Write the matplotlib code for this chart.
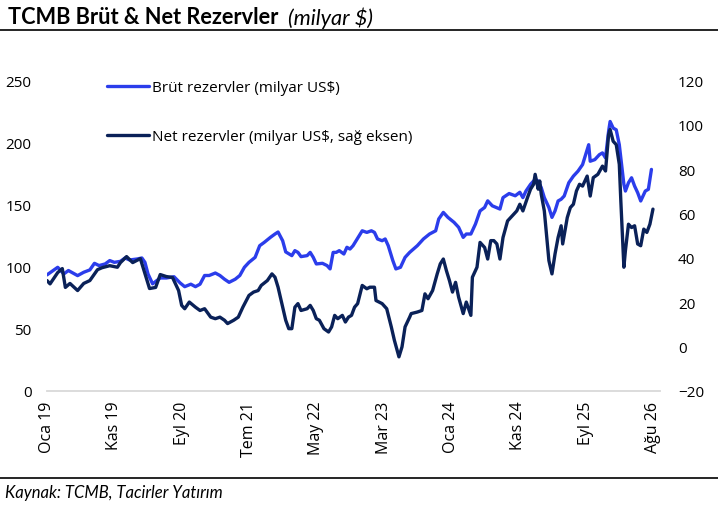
import matplotlib
matplotlib.use("Agg")
import matplotlib.pyplot as plt
from matplotlib.lines import Line2D

# ---------------- data (weeks since Jan 2019) ----------------
brut_weeks = [0, 7, 11, 14, 20, 24, 28, 31, 34, 38, 41, 44, 48, 51, 54, 59, 62, 64, 66, 69,
              74, 78, 83, 87, 90, 94, 97, 100, 103, 106, 110, 113, 116, 119, 123, 126, 129, 132, 136, 139,
              142, 146, 149, 151, 154, 156, 160, 162, 164, 166, 170, 172, 174, 176, 180, 183, 185, 187, 189, 191,
              194, 196, 198, 200, 202, 206, 209, 212, 214, 216, 219, 221, 223, 226, 228, 231, 234, 237, 242, 246,
              250, 254, 256, 259, 262, 266, 269, 272, 274, 277, 280, 283, 286, 288, 291, 296, 298, 302, 306, 309,
              311, 313, 316, 319, 321, 323, 325, 328, 330, 332, 334, 336, 338, 341, 344, 347, 350, 354, 355, 358,
              361, 363, 365, 367, 368, 370, 372, 374, 377, 378, 380, 382, 384, 386, 388, 391, 393, 395]
brut_vals = [93.5, 99.6, 94.3, 97, 92.9, 95.6, 97.5, 102.8, 101, 102.3, 105, 103.6, 104.4, 107.1, 105.5, 106.3, 107.1, 103.6, 94.3, 86.3,
             91, 91, 92, 87, 84, 86, 84, 86, 93, 93, 95, 93, 90, 87.5, 90, 93, 99.6, 103.6, 107.6, 117,
             119.7, 123.7, 126.4, 128, 121, 112, 109, 113, 111.6, 108.2, 109, 111.6, 107.6, 102.3, 102.8, 101, 98.3, 111.6, 111.6, 113,
             110.3, 115.7, 114.3, 117, 121, 129, 127.7, 129, 127.7, 122.4, 121, 122.4, 117, 105, 98.3, 99.6, 107.6, 111.6, 117, 122.4,
             126.4, 129, 138.5, 143.8, 139.8, 135.8, 131.8, 123.7, 126.4, 126.4, 134.4, 145, 147.8, 153.1, 149.1, 146.5, 155.7, 159, 157.2, 160,
             155.7, 161, 166.4, 170.4, 169, 163.7, 155.7, 147.7, 139.8, 145, 153, 154.4, 157, 167.7, 173, 177, 182.3, 198.3, 185, 186.3,
             190.3, 191.7, 187.7, 209, 217, 211.7, 210.3, 198.3, 166.4, 161, 167.7, 171.7, 165, 159.7, 153, 161, 162.4, 178.4]

net_weeks = [0, 2, 7, 10, 12, 15, 20, 24, 28, 33, 36, 41, 46, 48, 52, 56, 61, 64, 67, 71,
             74, 78, 82, 84, 86, 88, 90, 93, 97, 100, 103, 107, 110, 113, 116, 118, 122, 125, 128, 132,
             135, 138, 140, 144, 147, 149, 151, 153, 156, 158, 160, 162, 164, 166, 170, 172, 174, 176, 178, 181,
             184, 186, 188, 190, 193, 195, 197, 199, 201, 203, 206, 209, 211, 214, 215, 219, 222, 225, 227, 230,
             232, 234, 237, 238, 242, 245, 247, 249, 252, 255, 257, 259, 261, 263, 265, 267, 269, 272, 274, 277,
             278, 281, 283, 286, 288, 290, 292, 294, 296, 298, 301, 305, 307, 309, 311, 314, 316, 318, 319, 321,
             322, 323, 325, 326, 328, 330, 332, 334, 336, 337, 340, 342, 344, 346, 348, 350, 353, 355, 357, 360,
             363, 365, 367, 368, 370, 372, 374, 375, 377, 378, 380, 382, 384, 386, 388, 390, 392, 394, 396]
net_vals = [29.8, 28.3, 33.4, 35.2, 26.7, 28.5, 25.3, 28.5, 29.8, 34.7, 35.6, 36.5, 35.8, 37.9, 40.6, 37.9, 39.7, 32.9, 26.2, 26.7,
            32.5, 31.6, 31.2, 28.3, 25.3, 18.6, 17.1, 20.1, 17.8, 16.3, 17.1, 13.3, 12.6, 13.3, 11.9, 10.4, 11.9, 13.3, 17.8, 23.1,
            24.6, 25.3, 27.6, 29.8, 32.8, 31.3, 26.8, 20.8, 11.9, 8.1, 8.1, 17.8, 19.4, 16.3, 17.1, 18.6, 16.3, 12.6, 11.9, 8.1,
            6.6, 8.9, 14.1, 12.6, 14.1, 11.1, 13.3, 14.1, 17.8, 19.4, 27.6, 26.1, 26.8, 26.8, 20.8, 19.4, 17.1, 8.9, 2.9, -4.6,
            -0.1, 8.9, 13.3, 14.9, 15.6, 16.3, 23.8, 21.6, 25.3, 32.8, 37.3, 39.5, 34.3, 29.8, 24.6, 29.0, 22.3, 14.9, 20.1, 14.1,
            31.3, 35.8, 47.0, 44.7, 39.5, 47.8, 47.8, 46.3, 39.5, 49.2, 56.7, 59.7, 61.2, 64.2, 61.2, 67.2, 71.0, 73.2, 77.7, 71.0,
            74.7, 68.7, 61.2, 53.7, 38.8, 32.8, 41.8, 49.2, 54.5, 46.3, 58.2, 62.7, 64.2, 70.2, 73.2, 72.4, 76.9, 67.9, 76.2, 77.7,
            81.4, 79.2, 95.6, 97.9, 92.6, 91.1, 82.2, 65.7, 35.8, 43.3, 55.2, 53.7, 54.5, 46.3, 45.5, 53.0, 51.5, 55.2, 62.0]

tick_weeks = [0, 44, 88, 132, 176, 220, 264, 308, 352, 396]
tick_labels = ["Oca 19", "Kas 19", "Eyl 20", "Tem 21", "May 22", "Mar 23", "Oca 24", "Kas 24", "Eyl 25", "Ağu 26"]

left_ticks = [0, 50, 100, 150, 200, 250]
right_ticks = [-20, 0, 20, 40, 60, 80, 100, 120]

brut_label = "Brüt rezervler (milyar US$)"
net_label = "Net rezervler (milyar US$, sağ eksen)"

BLUE = "#2B3DEB"
NAVY = "#0A2158"

# ---------------- figure ----------------
plt.rcParams["font.family"] = ["Open Sans", "DejaVu Sans"]
W, H = 718, 506
fig = plt.figure(figsize=(W / 100, H / 100), dpi=100)

ax_left, ax_right_px, ax_top, ax_bot = 47, 660, 81.5, 392
ax = fig.add_axes([ax_left / W, 1 - ax_bot / H, (ax_right_px - ax_left) / W, (ax_bot - ax_top) / H])
ax2 = ax.twinx()

l1, = ax.plot(brut_weeks, brut_vals, color=BLUE, lw=2.4, solid_joinstyle="round", solid_capstyle="round")
l2, = ax2.plot(net_weeks, net_vals, color=NAVY, lw=2.4, solid_joinstyle="round", solid_capstyle="round")

ax.set_xlim(0, 400.6)
ax.set_ylim(0, 250)
ax2.set_ylim(-20, 120)
ax.set_yticks(left_ticks)
ax2.set_yticks(right_ticks)
ax.set_xticks(tick_weeks)
ax.set_xticklabels(tick_labels, rotation=90, fontsize=11.5, color="#000000")

for a in (ax, ax2):
    for s in ("top", "left", "right", "bottom"):
        a.spines[s].set_visible(False)
    a.tick_params(length=0)
ax.spines["bottom"].set_visible(True)
ax.spines["bottom"].set_color("#D9D9D9")
ax.spines["bottom"].set_linewidth(1.3)

ax.tick_params(axis="y", labelsize=11, pad=11, colors="#000000")
ax2.tick_params(axis="y", labelsize=11, pad=13, colors="#000000")
ax.tick_params(axis="x", pad=7)

leg = ax2.legend([l1, l2], [brut_label, net_label], loc="upper left",
                 bbox_to_anchor=((101 - ax_left) / (ax_right_px - ax_left), 1.02),
                 frameon=False, fontsize=11, handlelength=2.75, handletextpad=0.2,
                 labelspacing=2.22, borderaxespad=0)

# ---------------- title / source ----------------
t1 = fig.text(8 / W, 1 - 18 / H, "TCMB Brüt & Net Rezervler", fontsize=15.7,
              fontweight="bold", family=["Lato", "DejaVu Sans"], va="center", ha="left")
fig.canvas.draw()
bb = t1.get_window_extent()
fig.text((bb.x1 + 10) / W, 1 - 18 / H, "(milyar $)", fontsize=15.7, style="italic",
         family=["Lato", "DejaVu Sans"], va="center", ha="left")

fig.add_artist(Line2D([0, 1], [1 - 31 / H, 1 - 31 / H], transform=fig.transFigure, color="black", lw=1.2))
fig.add_artist(Line2D([0, 1], [1 - 479 / H, 1 - 479 / H], transform=fig.transFigure, color="black", lw=1.2))
fig.text(5 / W, 1 - 493 / H, "Kaynak: TCMB, Tacirler Yatırım", fontsize=12, style="italic",
         family=["Lato", "DejaVu Sans"], va="center", ha="left")

fig.savefig("out.png", dpi=100)
